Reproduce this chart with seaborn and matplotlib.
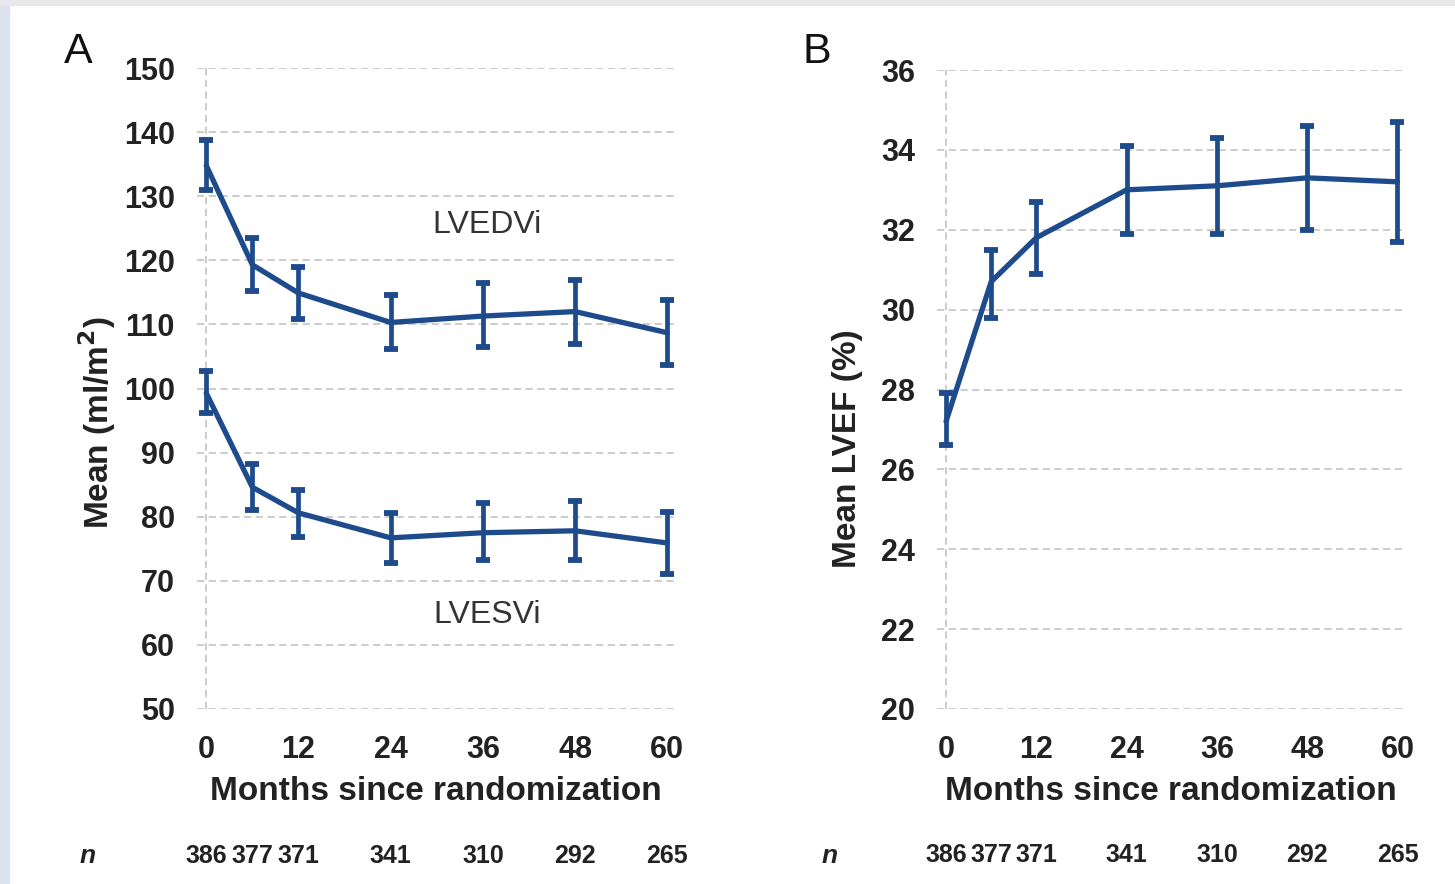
import numpy as np
import pandas as pd
import seaborn as sns
import matplotlib.pyplot as plt
from matplotlib.patches import Rectangle

# Data
months = [0, 6, 12, 24, 36, 48, 60]
n_patients = [386, 377, 371, 341, 310, 292, 265]

lvedvi = [134.8, 119.3, 114.9, 110.3, 111.3, 112.0, 108.7]
lvedvi_lo = [130.9, 115.2, 110.9, 106.1, 106.5, 107.0, 103.6]
lvedvi_hi = [138.8, 123.5, 119.0, 114.6, 116.4, 117.0, 113.8]

lvesvi = [99.3, 84.6, 80.6, 76.7, 77.5, 77.8, 75.9]
lvesvi_lo = [96.2, 81.1, 76.9, 72.8, 73.2, 73.3, 71.1]
lvesvi_hi = [102.7, 88.2, 84.1, 80.6, 82.1, 82.4, 80.8]

lvef = [27.2, 30.7, 31.8, 33.0, 33.1, 33.3, 33.2]
lvef_lo = [26.6, 29.8, 30.9, 31.9, 31.9, 32.0, 31.7]
lvef_hi = [27.9, 31.5, 32.7, 34.1, 34.3, 34.6, 34.7]

x_ticks = [0, 12, 24, 36, 48, 60]

sns.set_theme(style="white")
plt.rcParams['font.family'] = ['Liberation Sans', 'DejaVu Sans']

blue = '#1d4b8c'
grid_col = '#c8c8c8'
text_col = '#222222'

fig = plt.figure(figsize=(14.55, 8.84), dpi=100)
fig.patch.set_facecolor('white')
# thin page border seen in the screenshot
fig.add_artist(Rectangle((0, 0), 9 / 1455, 1, transform=fig.transFigure,
                         color='#dde2ef', zorder=0))
fig.add_artist(Rectangle((0, 1 - 5 / 884), 1, 5 / 884, transform=fig.transFigure,
                         color='#e6e8ea', zorder=0))

axA = fig.add_axes([197 / 1455, 1 - 709 / 884, 478 / 1455, 641 / 884])
axB = fig.add_axes([937 / 1455, 1 - 709 / 884, 468 / 1455, 639 / 884])


def draw_series(ax, y, lo, hi):
    df = pd.DataFrame({'month': months, 'value': y})
    sns.lineplot(data=df, x='month', y='value', ax=ax, color=blue,
                 linewidth=3.8, zorder=3)
    y = np.array(y)
    err = [y - np.array(lo), np.array(hi) - y]
    ax.errorbar(months, y, yerr=err, fmt='none', ecolor=blue,
                elinewidth=3.4, capsize=5, capthick=4.2, zorder=3)


def style_axis(ax, ylim, yticks):
    ax.set_xlim(-1.2, 61)
    ax.set_ylim(*ylim)
    ax.set_yticks(yticks)
    ax.set_xticks(x_ticks)
    for s in ax.spines.values():
        s.set_visible(False)
    for yt in yticks:
        ax.axhline(yt, color=grid_col, linestyle=(0, (4, 2.5)), linewidth=1.3, zorder=1)
    ax.axvline(0, color=grid_col, linestyle=(0, (4, 2.5)), linewidth=1.3, zorder=1)
    ax.tick_params(axis='x', length=5, width=1.2, color=grid_col, pad=14,
                   labelsize=22, labelcolor=text_col)
    ax.tick_params(axis='y', length=0, pad=16, labelsize=22, labelcolor=text_col)
    for lab in ax.get_xticklabels() + ax.get_yticklabels():
        lab.set_fontweight('bold')
    ax.set_xlabel('Months since randomization', fontsize=24, fontweight='bold',
                  color=text_col, labelpad=8)


# Panel A
draw_series(axA, lvedvi, lvedvi_lo, lvedvi_hi)
draw_series(axA, lvesvi, lvesvi_lo, lvesvi_hi)
style_axis(axA, (50, 150), list(range(50, 151, 10)))
axA.set_ylabel('Mean (ml/m$^\\mathbf{2}$)', fontsize=24, fontweight='bold',
               color=text_col)
axA.yaxis.set_label_coords(-0.165, 0.446)
axA.text(36.5, 125.5, 'LVEDVi', fontsize=23, color='#333333', ha='center', va='center')
axA.text(36.5, 64.7, 'LVESVi', fontsize=23, color='#333333', ha='center', va='center')

# Panel B
draw_series(axB, lvef, lvef_lo, lvef_hi)
style_axis(axB, (20, 36), list(range(20, 37, 2)))
axB.set_ylabel('Mean LVEF (%)', fontsize=24, fontweight='bold', color=text_col)
axB.yaxis.set_label_coords(-0.158, 0.407)

# n at risk rows
for ax, nx in [(axA, 88 / 1455), (axB, 830 / 1455)]:
    for m, n in zip(months, n_patients):
        ax.annotate(str(n), xy=(m, -0.229), xycoords=('data', 'axes fraction'),
                    ha='center', va='center', fontsize=18, fontweight='bold',
                    color=text_col)
    fig.text(nx, 1 - 856 / 884, 'n', fontsize=19, fontweight='bold',
             fontstyle='italic', color=text_col, ha='center', va='center')

fig.text(64 / 1455, 1 - 52 / 884, 'A', fontsize=31, color='#111111', ha='left', va='center')
fig.text(802 / 1455, 1 - 52 / 884, 'B', fontsize=31, color='#111111', ha='left', va='center')

fig.savefig('out.png', dpi=100, facecolor=fig.get_facecolor())
